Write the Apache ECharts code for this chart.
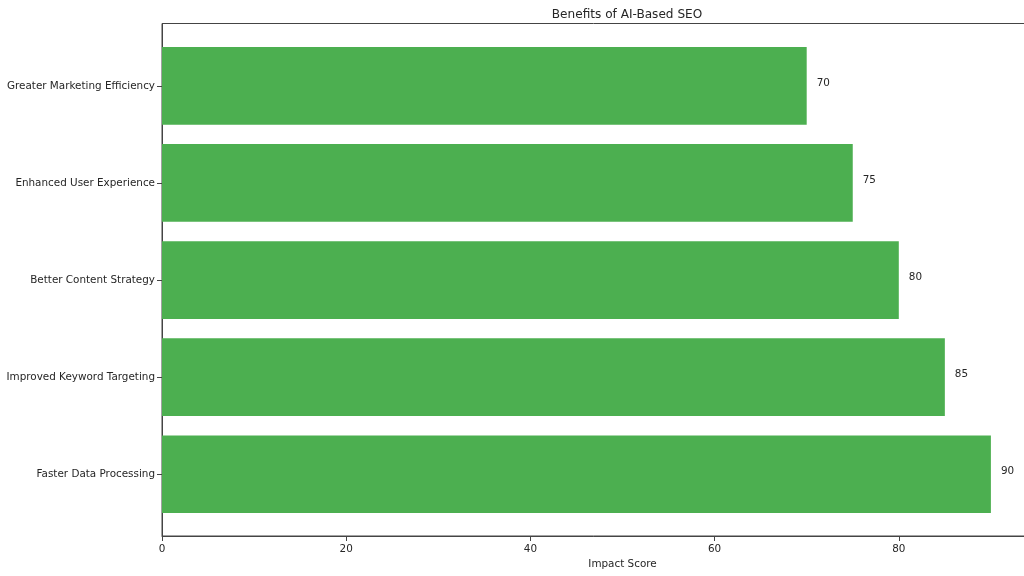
<!DOCTYPE html>
<html>
<head>
<meta charset="utf-8">
<script src="https://cdn.jsdelivr.net/npm/echarts@6/dist/echarts.min.js"></script>
<style>html,body{margin:0;padding:0;background:#fff;}#c{width:1024px;height:576px;}</style>
</head>
<body>
<div id="c"></div>
<script>
const categories = ['Faster Data Processing', 'Improved Keyword Targeting', 'Better Content Strategy', 'Enhanced User Experience', 'Greater Marketing Efficiency'];
const impactScores = [90, 85, 80, 75, 70];
const xTicks = [0, 20, 40, 60, 80];
const titleText = 'Benefits of AI-Based SEO';
const xAxisName = 'Impact Score';

const FONT = 'DejaVu Sans';
const TXT = '#262626';
const chart = echarts.init(document.getElementById('c'));
chart.setOption({
  animation: false,
  backgroundColor: '#fff',
  textStyle: { fontFamily: FONT },
  title: {
    text: titleText, left: 622, top: 4, textAlign: 'center',
    textStyle: { fontFamily: FONT, fontSize: 12.1, fontWeight: 'normal', color: TXT }
  },
  grid: [
    { left: 162, width: 921, top: 23.5, height: 512.5, show: true, borderColor: '#444', borderWidth: 1, backgroundColor: 'transparent', outerBoundsMode: 'none', containLabel: false },
    { left: 162, width: 921, top: 37.3, height: 485.5, outerBoundsMode: 'none', containLabel: false }
  ],
  xAxis: [
    {
      gridIndex: 0, type: 'value', min: 0, max: 100, interval: 20,
      name: xAxisName, nameLocation: 'middle', nameGap: 23,
      nameTextStyle: { fontFamily: FONT, fontSize: 10.4, color: TXT },
      axisLine: { show: true, lineStyle: { color: '#444', width: 1 } },
      axisTick: { show: true, length: 5, lineStyle: { color: '#444' } },
      axisLabel: { show: true, margin: 8, fontFamily: FONT, fontSize: 10.4, color: TXT, showMaxLabel: false,
        formatter: v => (xTicks.indexOf(v) >= 0 ? String(v) : '') },
      splitLine: { show: false }
    },
    { gridIndex: 1, type: 'value', min: 0, max: 100, show: false }
  ],
  yAxis: [
    {
      gridIndex: 0, type: 'value', min: 0, max: 1,
      axisLine: { show: true, lineStyle: { color: '#444', width: 1 } },
      axisTick: { show: false }, axisLabel: { show: false }, splitLine: { show: false }
    },
    {
      gridIndex: 1, type: 'category', data: categories,
      axisLine: { show: false },
      axisTick: { show: true, alignWithLabel: true, length: 5, lineStyle: { color: '#444' } },
      axisLabel: { margin: 7, fontFamily: FONT, fontSize: 10.4, color: TXT },
      splitLine: { show: false }
    }
  ],
  series: [{
    type: 'bar', xAxisIndex: 1, yAxisIndex: 1,
    data: impactScores, barWidth: '80%',
    itemStyle: { color: '#4CAF50' },
    label: { show: true, position: 'right', distance: 10, offset: [0, -3], fontFamily: FONT, fontSize: 10.4, color: TXT }
  }]
});
</script>
</body>
</html>
